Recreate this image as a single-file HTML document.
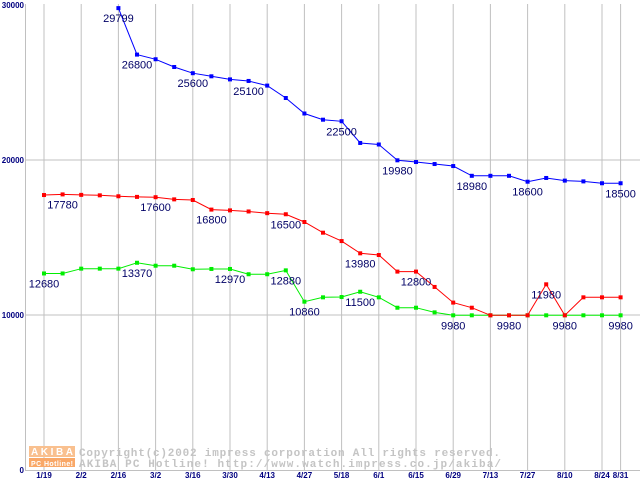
<!DOCTYPE html>
<html><head><meta charset="utf-8"><style>
html,body{margin:0;padding:0;background:#fff;}
svg{display:block;}
</style></head><body>
<svg id="chart" width="640" height="480" xmlns="http://www.w3.org/2000/svg">
<g id="grid"></g>
<g id="watermark">
<rect x="29" y="446" width="46" height="11" fill="#f9c08f"/>
<text x="52" y="455" font-family="Liberation Sans, sans-serif" font-size="10" font-weight="bold" fill="#fff" text-anchor="middle" textLength="42">AKIBA</text>
<rect x="29" y="458" width="46" height="9" fill="#f9a868"/>
<text x="52" y="466" font-family="Liberation Sans, sans-serif" font-size="7" font-weight="bold" fill="#fff" text-anchor="middle" textLength="42">PC Hotline!</text>
<text x="79" y="456" font-family="Liberation Mono, monospace" font-size="11" font-weight="bold" fill="#c4c4c4" textLength="421">Copyright(c)2002 impress corporation All rights reserved.</text>
<text x="79" y="467" font-family="Liberation Mono, monospace" font-size="11" font-weight="bold" fill="#c4c4c4" textLength="422">AKIBA PC Hotline!  http://www.watch.impress.co.jp/akiba/</text>
</g>
<g id="axes"></g>
<g id="series"></g>
<g id="labels"></g>
</svg>
<script>
const xTickLabels = ["1/19","2/2","2/16","3/2","3/16","3/30","4/13","4/27","5/18","6/1","6/15","6/29","7/13","7/27","8/10","8/24","8/31"];
const xTickIndex = [0,2,4,6,8,10,12,14,16,18,20,22,24,26,28,30,31];
const yTicks = [0,10000,20000,30000];
const blueStart = 4;
const blueValues = [29799,26800,26500,26000,25600,25400,25200,25100,24800,24000,23000,22600,22500,21100,21000,19980,19870,19740,19610,18980,18980,18980,18600,18840,18670,18620,18500,18500];
const redValues = [17740,17780,17750,17720,17660,17620,17600,17460,17420,16800,16750,16680,16570,16500,16000,15310,14770,13980,13870,12800,12800,11810,10800,10470,9980,9980,9980,11980,9980,11140,11140,11140];
const greenValues = [12680,12680,12990,12990,12990,13370,13180,13180,12950,12970,12970,12630,12630,12880,10860,11140,11160,11500,11140,10470,10470,10170,9980,9980,9980,9980,9980,9980,9980,9980,9980,9980];
const blueLabelIdx = [4,5,8,11,16,19,23,26,31];
const redLabelIdx = [1,6,9,13,17,20,27];
const greenLabelIdx = [0,5,10,13,14,17,22,25,28,31];

const NS = "http://www.w3.org/2000/svg";
const X = i => 44 + 18.6 * i;
const Y = v => 470 - v / 10000 * 155;
function mk(tag, attrs, parent) {
  const e = document.createElementNS(NS, tag);
  for (const k in attrs) e.setAttribute(k, attrs[k]);
  parent.appendChild(e);
  return e;
}
const grid = document.getElementById('grid');
const axes = document.getElementById('axes');
xTickIndex.forEach((ix, k) => {
  const l = mk('line', {x1: X(ix), x2: X(ix), y1: 4, y2: 470, stroke: '#c0c0c0', 'stroke-width': 1}, grid);
  
  
  const t = mk('text', {x: X(ix), y: 478, 'font-family': 'Liberation Sans, sans-serif', 'font-size': 8, 'font-weight': 'bold', fill: '#000080', 'text-anchor': 'middle'}, axes);
  t.textContent = xTickLabels[k];
  
  
});
yTicks.forEach(v => {
  if (v > 0 && v < 30000) {
    const l = mk('line', {x1: 25, x2: 640, y1: Y(v), y2: Y(v), stroke: '#c0c0c0', 'stroke-width': 1}, grid);
    
    
  }
  const t = mk('text', {x: 24, y: Y(v) + 3, 'font-family': 'Liberation Sans, sans-serif', 'font-size': 8, 'font-weight': 'bold', fill: '#000080', 'text-anchor': 'end'}, axes);
  t.textContent = String(v);
  
  
});
const ya = mk('line', {x1: 25.5, x2: 25.5, y1: 4, y2: 471, stroke: '#c0c0c0', 'stroke-width': 1}, axes);


const xa = mk('line', {x1: 25, x2: 640, y1: 470.5, y2: 470.5, stroke: '#c0c0c0', 'stroke-width': 1}, axes);



const series = document.getElementById('series');
const labels = document.getElementById('labels');
function drawSeries(vals, start, color, name) {
  const g = mk('g', {}, series);
  
  
  const pts = vals.map((v, i) => X(i + start).toFixed(1) + ',' + Y(v).toFixed(1)).join(' ');
  const pl = mk('polyline', {points: pts, fill: 'none', stroke: color, 'stroke-width': 1}, g);
  
  
  vals.forEach((v, i) => {
    const r = mk('rect', {x: X(i + start) - 2, y: Y(v) - 2, width: 4, height: 4, fill: color}, g);
    
    
  });
}
function drawLabels(vals, start, idxs, name) {
  idxs.forEach(ix => {
    const v = vals[ix - start];
    const t = mk('text', {x: X(ix), y: Y(v) + 14, 'font-family': 'Liberation Sans, sans-serif', 'font-size': 11, fill: '#000066', 'text-anchor': 'middle'}, labels);
    t.textContent = String(v);
    
    
  });
}
drawSeries(greenValues, 0, '#00ee00', 'green-series');
drawSeries(redValues, 0, '#ff0000', 'red-series');
drawSeries(blueValues, blueStart, '#0000ff', 'blue-series');
drawLabels(blueValues, blueStart, blueLabelIdx, 'blue');
drawLabels(redValues, 0, redLabelIdx, 'red');
drawLabels(greenValues, 0, greenLabelIdx, 'green');
</script>
</body></html>
